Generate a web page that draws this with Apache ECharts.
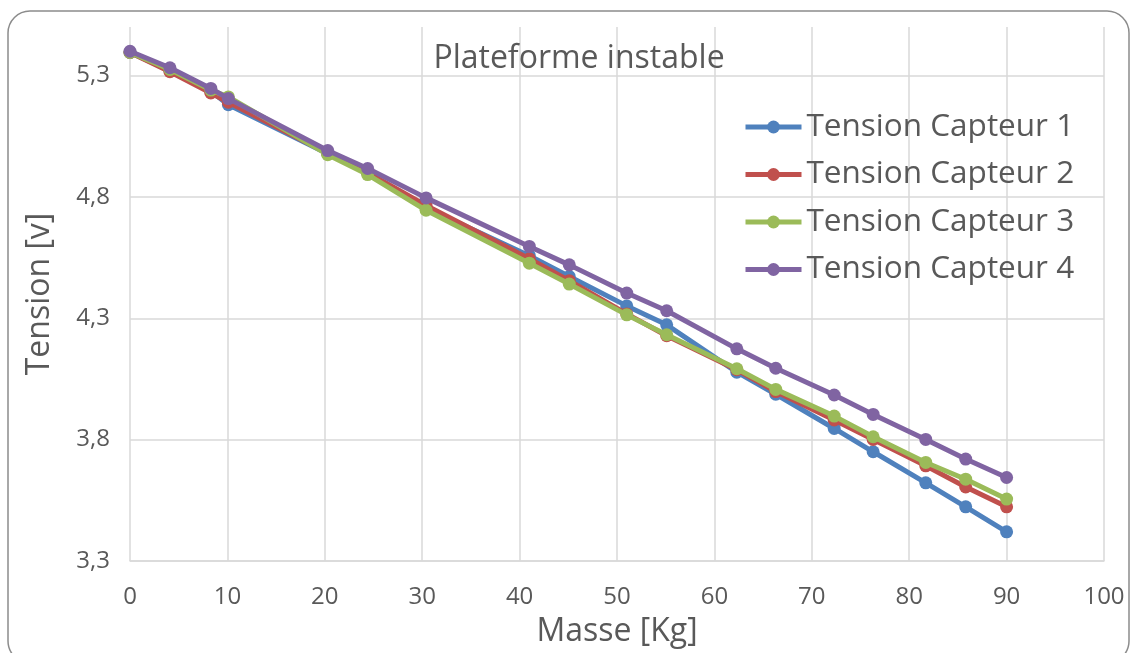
<!DOCTYPE html>
<html>
<head>
<meta charset="utf-8">
<script src="https://cdn.jsdelivr.net/npm/echarts@6/dist/echarts.min.js"></script>
<style>
html,body{margin:0;padding:0;background:#fff;}
#c{width:1134px;height:653px;}
</style>
</head>
<body>
<div id="c"></div>
<script>
const masses = [0, 4.1, 8.3, 10.1, 20.3, 24.4, 30.4, 41, 45.1, 51, 55.1, 62.3, 66.3, 72.3, 76.3, 81.7, 85.8, 90];
const capteur1 = [5.395, 5.320, 5.235, 5.180, 4.978, 4.898, 4.755, 4.558, 4.472, 4.351, 4.273, 4.078, 3.987, 3.846, 3.750, 3.622, 3.523, 3.420];
const capteur2 = [5.395, 5.316, 5.228, 5.190, 4.980, 4.900, 4.765, 4.545, 4.455, 4.318, 4.228, 4.088, 3.998, 3.881, 3.801, 3.692, 3.605, 3.523];
const capteur3 = [5.395, 5.325, 5.240, 5.212, 4.974, 4.892, 4.745, 4.527, 4.441, 4.314, 4.232, 4.092, 4.007, 3.897, 3.812, 3.706, 3.637, 3.555];
const capteur4 = [5.400, 5.332, 5.247, 5.205, 4.991, 4.917, 4.796, 4.596, 4.520, 4.404, 4.331, 4.174, 4.094, 3.984, 3.904, 3.801, 3.720, 3.644];
const seriesNames = ['Tension Capteur 1', 'Tension Capteur 2', 'Tension Capteur 3', 'Tension Capteur 4'];
const seriesValues = [capteur1, capteur2, capteur3, capteur4];
const colors = ['#4F81BD', '#C0504D', '#9BBB59', '#8064A2'];
const titleText = 'Plateforme instable';
const xName = 'Masse [Kg]';
const yName = 'Tension [v]';

const FONT = '"Open Sans", "Noto Sans", sans-serif';
const TXT = '#595959';
const GRID = '#d9d9d9';

const chart = echarts.init(document.getElementById('c'));
chart.setOption({
  animation: false,
  backgroundColor: '#fff',
  color: colors,
  textStyle: { fontFamily: FONT },
  graphic: [{
    type: 'rect',
    silent: true,
    z: -10,
    shape: { x: 8, y: 11, width: 1121, height: 652, r: 22 },
    style: { fill: 'none', stroke: '#8c8c8c', lineWidth: 1.5 }
  }],
  title: {
    text: titleText,
    left: 574,
    top: 38,
    textAlign: 'center',
    textStyle: { fontFamily: FONT, fontSize: 32, fontWeight: 'normal', color: TXT }
  },
  legend: {
    orient: 'vertical',
    left: 743,
    top: 111,
    padding: 0,
    itemWidth: 56,
    itemHeight: 16,
    itemGap: 15.5,
    data: seriesNames,
    lineStyle: { width: 5 },
    textStyle: { fontFamily: FONT, fontSize: 31.5, color: TXT }
  },
  grid: { left: 130, right: 30, top: 27, bottom: 92 },
  xAxis: {
    type: 'value',
    min: 0, max: 100, interval: 10,
    name: xName,
    nameLocation: 'middle',
    nameGap: 55,
    nameTextStyle: { fontFamily: FONT, fontSize: 32, color: TXT },
    axisLine: { show: true, lineStyle: { color: GRID, width: 1.5 } },
    axisTick: { show: false },
    axisLabel: { fontFamily: FONT, fontSize: 24, color: TXT, margin: 24 },
    splitLine: { show: true, lineStyle: { color: GRID, width: 1.5 } }
  },
  yAxis: {
    type: 'value',
    min: 3.3, max: 5.5, interval: 0.5,
    name: yName,
    nameLocation: 'middle',
    nameGap: 74,
    nameTextStyle: { fontFamily: FONT, fontSize: 32, color: TXT },
    axisLine: { show: false },
    axisTick: { show: false },
    axisLabel: {
      fontFamily: FONT, fontSize: 24, color: TXT, margin: 20,
      showMaxLabel: false,
      formatter: v => (v > 5.35 ? '' : v.toFixed(1).replace('.', ','))
    },
    splitLine: { show: true, lineStyle: { color: [GRID, GRID, GRID, GRID, GRID, 'rgba(0,0,0,0)'], width: 1.5 } }
  },
  series: seriesNames.map((name, i) => ({
    name: name,
    type: 'line',
    data: masses.map((m, j) => [m, seriesValues[i][j]]),
    symbol: 'circle',
    symbolSize: 13,
    showSymbol: true,
    lineStyle: { width: 5, color: colors[i] },
    itemStyle: { color: colors[i] },
    z: 2 + i
  }))
});
</script>
</body>
</html>
